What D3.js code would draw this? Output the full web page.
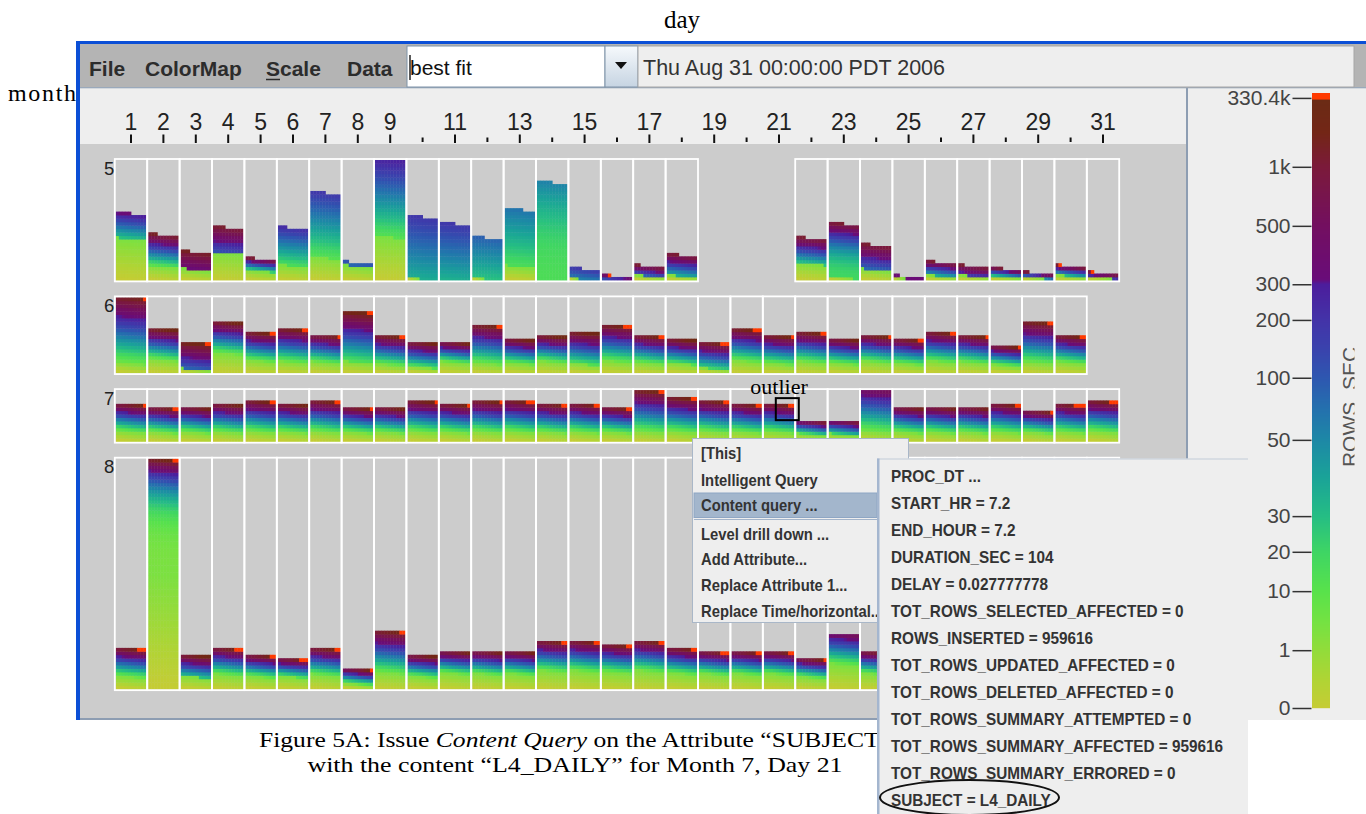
<!DOCTYPE html>
<html>
<head>
<meta charset="utf-8">
<title>ROWS_SEC by month and day</title>
<script src="https://cdn.jsdelivr.net/npm/d3@7/dist/d3.min.js"></script>
<style>
  html, body { margin: 0; padding: 0; background: #ffffff; }
  svg { display: block; }
</style>
</head>
<body>
<svg id="view" width="1366" height="814"></svg>
<script>
// ---------- data ----------
const dayNumbers = d3.range(1, 32);
const rulerLabels = [1, 2, 3, 4, 5, 6, 7, 8, 9, 11, 13, 15, 17, 19, 21, 23, 25, 27, 29, 31];
const rulerMinor = [10, 12, 14, 16, 18, 20, 22, 24, 26, 28, 30];
const monthLabels = ["5", "6", "7", "8"];

// records per day (one pixel per record, ten records per pixel row); null = no data that day
const mayCounts = [195, 133, 83, 154, 63, 153, 255, 52, 350, 185, 165, 124, 206, 285, 34, 13, 42, 74,
  null, null, null, 123, 165, 103, 12, 53, 42, 34, 22, 42, 22];
const junCounts = [220, 130, 90, 150, 120, 130, 110, 180, 110, 90, 90, 140, 100, 110, 120, 140, 110, 100,
  90, 130, 110, 120, 100, 110, 100, 120, 110, 80, 150, 110];
const julCounts = [110, 100, 100, 110, 120, 110, 120, 100, 100, 120, 110, 120, 120, 110, 110, 100, 150, 130,
  120, 110, 110, 60, 60, 150, 100, 100, 100, 110, 90, 110, 120];
const augCounts = [120, 670, 100, 120, 100, 90, 120, 60, 170, 100, 110, 110, 110, 140, 140, 130, 140, 120,
  110, 110, 110, 90, 160, 110, 120, 110, 120, 100, 110, 120, 110];

// make-up of each day's sorted ROWS_SEC values, as colour-bar positions:
// [share of near-zero rates, position where the rest starts, position at the top, curvature]
const mayMix = [
  [0.62, 0.30, 0.72, 1], [0.30, 0.18, 0.92, 1], [0.38, 0.70, 0.92, 1], [0.52, 0.55, 0.90, 1], [0.44, 0.25, 0.90, 1],
  [0.28, 0.22, 0.65, 1], [0.26, 0.20, 0.62, 1], [0.80, 0.50, 0.55, 1], [0.36, 0.20, 0.68, 1], [0.02, 0.35, 0.62, 1],
  [0.00, 0.34, 0.62, 1], [0.03, 0.30, 0.52, 1], [0.20, 0.22, 0.48, 1], [0.00, 0.22, 0.45, 2], [0.08, 0.45, 0.62, 1],
  [0.00, 0.55, 0.80, 1], [0.30, 0.50, 0.90, 1], [0.18, 0.35, 0.90, 1], null, null,
  null, [0.40, 0.30, 0.90, 1], [0.05, 0.25, 0.90, 2], [0.30, 0.50, 0.90, 1], [0.30, 0.70, 0.72, 1],
  [0.25, 0.35, 0.90, 1], [0.30, 0.60, 0.90, 1], [0.30, 0.30, 0.90, 1], [0.30, 0.40, 0.90, 1], [0.30, 0.30, 0.92, 1],
  [0.35, 0.60, 0.90, 1]];
const junMix = [
  [0.13, 0.15, 0.93, 1], [0.30, 0.15, 0.97, 1], [0.12, 0.50, 0.97, 1], [0.38, 0.15, 0.96, 1], [0.30, 0.15, 0.97, 1],
  [0.25, 0.15, 0.96, 1], [0.28, 0.15, 0.93, 1], [0.18, 0.20, 0.97, 1], [0.22, 0.15, 0.96, 1], [0.20, 0.20, 0.95, 1],
  [0.35, 0.15, 0.95, 1], [0.20, 0.15, 0.95, 1], [0.28, 0.15, 0.96, 1], [0.30, 0.15, 0.97, 1], [0.22, 0.20, 0.97, 1],
  [0.24, 0.15, 0.96, 1], [0.26, 0.15, 0.96, 1], [0.28, 0.20, 0.97, 1], [0.15, 0.25, 0.96, 1], [0.27, 0.15, 0.97, 1],
  [0.25, 0.15, 0.96, 1], [0.27, 0.15, 0.97, 1], [0.28, 0.15, 0.95, 1], [0.30, 0.15, 0.96, 1], [0.27, 0.15, 0.96, 1],
  [0.28, 0.15, 0.96, 1], [0.28, 0.15, 0.96, 1], [0.28, 0.15, 0.96, 1], [0.20, 0.15, 0.96, 1], [0.28, 0.15, 0.96, 1]];
const julMix = [
  [0.27, 0.15, 0.95, 1], [0.28, 0.15, 0.95, 1], [0.28, 0.15, 0.94, 1], [0.26, 0.15, 0.95, 1], [0.25, 0.15, 0.96, 1],
  [0.26, 0.15, 0.95, 1], [0.25, 0.15, 0.96, 1], [0.28, 0.15, 0.95, 1], [0.28, 0.15, 0.95, 1], [0.25, 0.15, 0.96, 1],
  [0.26, 0.15, 0.95, 1], [0.25, 0.15, 0.96, 1], [0.25, 0.15, 0.96, 1], [0.26, 0.15, 0.95, 1], [0.26, 0.15, 0.95, 1],
  [0.28, 0.15, 0.95, 1], [0.20, 0.15, 0.96, 1], [0.23, 0.15, 0.96, 1], [0.25, 0.15, 0.96, 1], [0.26, 0.15, 0.95, 1],
  [0.26, 0.15, 0.95, 1], [0.35, 0.20, 0.90, 1], [0.35, 0.25, 0.88, 1], [0.20, 0.15, 0.80, 1], [0.28, 0.15, 0.93, 1],
  [0.28, 0.15, 0.93, 1], [0.28, 0.15, 0.93, 1], [0.26, 0.15, 0.95, 1], [0.30, 0.15, 0.94, 1], [0.26, 0.15, 0.96, 1],
  [0.25, 0.15, 0.96, 1]];
const augMix = [
  [0.30, 0.15, 0.96, 1], [0.50, 0.13, 0.97, 3.2], [0.36, 0.30, 0.97, 1], [0.35, 0.15, 0.96, 1], [0.36, 0.15, 0.96, 1],
  [0.40, 0.20, 0.96, 1], [0.34, 0.15, 0.96, 1], [0.25, 0.15, 0.96, 1], [0.28, 0.15, 0.95, 1], [0.36, 0.15, 0.96, 1],
  [0.42, 0.15, 0.94, 1], [0.40, 0.15, 0.94, 1], [0.40, 0.15, 0.94, 1], [0.38, 0.15, 0.95, 1], [0.38, 0.15, 0.95, 1],
  [0.38, 0.15, 0.95, 1], [0.38, 0.15, 0.95, 1], [0.38, 0.15, 0.95, 1], [0.40, 0.15, 0.95, 1], [0.40, 0.15, 0.95, 1],
  [0.40, 0.15, 0.95, 1], [0.38, 0.15, 0.95, 1], [0.45, 0.15, 0.80, 1], [0.40, 0.15, 0.95, 1], [0.40, 0.15, 0.95, 1],
  [0.38, 0.15, 0.95, 1], [0.40, 0.15, 0.95, 1], [0.38, 0.15, 0.95, 1], [0.40, 0.15, 0.95, 1], [0.38, 0.15, 0.95, 1],
  [0.40, 0.15, 0.95, 1]];

// records sitting at the colour-bar maximum (330.4k) on each day
const mayPeak = [0, 0, 0, 0, 0, 0, 0, 0, 0, 0, 0, 0, 0, 0, 0, 1, 0, 0, 0, 0, 0, 0, 0, 0, 0, 0, 0, 0, 0, 1, 1];
const junPeak = [1, 0, 2, 0, 2, 2, 1, 2, 2, 0, 0, 2, 0, 0, 0, 3, 2, 0, 3, 3, 1, 2, 0, 1, 2, 2, 1, 1, 2, 2];
const julPeak = [1, 2, 0, 0, 2, 0, 2, 1, 0, 1, 1, 1, 3, 2, 2, 2, 2, 2, 2, 2, 2, 0, 0, 0, 0, 0, 0, 2, 1, 4, 3];
const augPeak = [3, 2, 0, 3, 2, 3, 2, 1, 2, 0, 0, 0, 0, 2, 2, 2, 2, 2, 3, 2, 2, 1, 0, 2, 2, 0, 2, 2, 0, 2, 2];

// colour bar: tick values, their labels and their position along the bar (0 bottom .. 1 top)
const legendValues = [0, 1, 10, 20, 30, 50, 100, 200, 300, 500, 1000, 330400];
const legendLabels = ["0", "1", "10", "20", "30", "50", "100", "200", "300", "500", "1k", "330.4k"];
const legendStops = [0, 0.094, 0.19, 0.254, 0.312, 0.436, 0.537, 0.631, 0.689, 0.784, 0.88, 0.992];

// popup menu and the record details of the selected pixel
const menuItems = ["[This]", "Intelligent Query", "Content query ...", "Level drill down ...",
  "Add Attribute...", "Replace Attribute 1...", "Replace Time/horizontal..."];
const recordFields = ["PROC_DT ...", "START_HR = 7.2", "END_HOUR = 7.2", "DURATION_SEC = 104",
  "DELAY = 0.027777778", "TOT_ROWS_SELECTED_AFFECTED = 0", "ROWS_INSERTED = 959616",
  "TOT_ROWS_UPDATED_AFFECTED = 0", "TOT_ROWS_DELETED_AFFECTED = 0", "TOT_ROWS_SUMMARY_ATTEMPTED = 0",
  "TOT_ROWS_SUMMARY_AFFECTED = 959616", "TOT_ROWS_SUMMARY_ERRORED = 0", "SUBJECT = L4_DAILY"];

// ---------- styles ----------
const SANS = "'Liberation Sans', Arial, Helvetica, sans-serif";
const SERIF = "'Liberation Serif', 'Times New Roman', Times, serif";
const PEAK = "#ff3a00";
const colourStops = [
  [0, "#c6cc34"], [0.045, "#b0d434"], [0.094, "#92dc3a"], [0.14, "#74e242"], [0.19, "#58e24b"],
  [0.254, "#3ed564"], [0.312, "#25bd84"], [0.375, "#1aa398"], [0.436, "#1d88a6"], [0.487, "#2470ae"],
  [0.537, "#2e57b0"], [0.585, "#3a42ad"], [0.631, "#4333a8"], [0.689, "#4c1d9c"], [0.697, "#690c79"],
  [0.784, "#730f60"], [0.88, "#7b1a3a"], [0.935, "#732616"], [0.988, "#6b2b15"], [0.9905, PEAK], [1, PEAK]];

const colormap = d3.scaleLinear()
  .domain(colourStops.map(d => d[0]))
  .range(colourStops.map(d => d[1]))
  .interpolate(d3.interpolateRgb)
  .clamp(true);

// colour of the record at fraction f (0 = lowest) of a day's sorted values
function shade(f, mix) {
  const [low, base, top, curve] = mix;
  let t;
  if (f < low) t = 0.13 * f / low;
  else t = base + (top - base) * Math.pow((f - low) / (1 - low), curve);
  return colormap(Math.min(t, 0.984));
}

const svg = d3.select("#view");

function uiText(parent, str, x, y, size, opts = {}) {
  return parent.append("text")
    .attr("transform", `translate(${x},${y}) scale(${opts.sx || 1},1)`)
    .attr("font-family", opts.family || SANS)
    .attr("font-size", size)
    .attr("font-weight", opts.weight || "normal")
    .attr("fill", opts.fill || "#333")
    .attr("text-anchor", opts.anchor || "start")
    .text(str);
}

// ---------- window frame ----------
const frame = svg.append("g");
frame.append("rect").attr("x", 76).attr("y", 41).attr("width", 1290).attr("height", 679).attr("fill", "#0b4fd6");
frame.append("rect").attr("x", 80).attr("y", 44).attr("width", 1286).attr("height", 676).attr("fill", "#b4b4b4");
frame.append("rect").attr("x", 80).attr("y", 88).attr("width", 1106).attr("height", 56).attr("fill", "#eeeeee");
frame.append("rect").attr("x", 80).attr("y", 144).attr("width", 1106).attr("height", 574).attr("fill", "#cccccc");
frame.append("rect").attr("x", 1188).attr("y", 88).attr("width", 178).attr("height", 632).attr("fill", "#eeeeee");
frame.append("rect").attr("x", 1186).attr("y", 88).attr("width", 2).attr("height", 632).attr("fill", "#8d9db2");
frame.append("rect").attr("x", 80).attr("y", 87).attr("width", 1286).attr("height", 1.3).attr("fill", "#9aa9bb");
frame.append("rect").attr("x", 80).attr("y", 718).attr("width", 1106).attr("height", 2).attr("fill", "#8d9db2");

// ---------- toolbar ----------
const bar = svg.append("g");
[["File", 89], ["ColorMap", 145], ["Scale", 266], ["Data", 347]].forEach(([t, x]) => {
  uiText(bar, t, x, 76, 21, { weight: "bold", fill: "#2c2c2c" });
});
bar.append("line").attr("x1", 266).attr("x2", 280).attr("y1", 79.5).attr("y2", 79.5)
  .attr("stroke", "#2c2c2c").attr("stroke-width", 1.5);

bar.append("rect").attr("x", 407).attr("y", 46).attr("width", 198).attr("height", 41)
  .attr("fill", "#ffffff").attr("stroke", "#7f93a8");
uiText(bar, "best fit", 410, 75, 21, { fill: "#111" });
bar.append("line").attr("x1", 410).attr("x2", 410).attr("y1", 55).attr("y2", 80)
  .attr("stroke", "#000").attr("stroke-width", 1.3);

const grad = svg.append("defs").append("linearGradient").attr("id", "btn").attr("x1", 0).attr("x2", 0).attr("y1", 0).attr("y2", 1);
grad.append("stop").attr("offset", 0).attr("stop-color", "#f6f9fc");
grad.append("stop").attr("offset", 1).attr("stop-color", "#c6d4e2");
bar.append("rect").attr("x", 605).attr("y", 46).attr("width", 33).attr("height", 41)
  .attr("fill", "url(#btn)").attr("stroke", "#7f93a8");
bar.append("path").attr("d", "M615,62 L627,62 L621,69 Z").attr("fill", "#111");

bar.append("rect").attr("x", 638).attr("y", 46).attr("width", 716).attr("height", 41)
  .attr("fill", "#eeeeee").attr("stroke", "#a6a6a6");
uiText(bar, "Thu Aug 31 00:00:00 PDT 2006", 643, 75, 21.5, { fill: "#333" });

// ---------- day ruler ----------
const dayBand = d3.scaleBand().domain(dayNumbers).range([114.8, 1119.2]);

const ruler = svg.append("g").attr("transform", "translate(0,143)")
  .call(d3.axisTop(dayBand).tickValues(rulerLabels).tickSize(8.5).tickPadding(4.5));
ruler.select(".domain").remove();
ruler.selectAll("line").attr("stroke", "#111").attr("stroke-width", 2);
ruler.selectAll("text").attr("font-family", SANS).attr("font-size", 23).attr("fill", "#222");

const minor = svg.append("g").attr("transform", "translate(0,142)")
  .call(d3.axisTop(dayBand).tickValues(rulerMinor).tickSize(4.5).tickFormat(""));
minor.select(".domain").remove();
minor.selectAll("line").attr("stroke", "#111").attr("stroke-width", 2);

// ---------- pixel bars, one panel per month ----------
const months = [
  { label: monthLabels[0], counts: mayCounts, mix: mayMix, peak: mayPeak },
  { label: monthLabels[1], counts: junCounts, mix: junMix, peak: junPeak },
  { label: monthLabels[2], counts: julCounts, mix: julMix, peak: julPeak },
  { label: monthLabels[3], counts: augCounts, mix: augMix, peak: augPeak }
];
const perRow = 10, rowPx = 3.44, panelGap = 17, inset = 1.0;
let panelTop = 160;
const plot = svg.append("g");

months.forEach(m => {
  const maxRows = d3.max(m.counts) / perRow;
  const panelH = maxRows * rowPx;
  const y = d3.scaleLinear().domain([0, maxRows]).range([panelTop + panelH, panelTop]);
  m.y = y;
  const g = plot.append("g");
  const bw = dayBand.bandwidth();
  const cw = (bw - 2 * inset) / perRow;

  m.counts.forEach((n, i) => {
    if (n == null) return;
    const x0 = dayBand(i + 1);
    const recs = d3.range(n).map(k => ({ k, row: Math.floor(k / perRow), col: k % perRow }));
    g.append("g").selectAll("rect").data(recs).join("rect")
      .attr("x", d => x0 + inset + d.col * cw)
      .attr("y", d => y(d.row + 1))
      .attr("width", cw + 0.4)
      .attr("height", d => y(d.row) - y(d.row + 1) + 0.4)
      .attr("fill", d => d.k >= n - m.peak[i] ? PEAK : shade((d.k + 0.5) / n, m.mix[i]));
  });
  m.counts.forEach((n, i) => {
    if (n == null) return;
    g.append("rect").attr("x", dayBand(i + 1)).attr("y", panelTop - 1)
      .attr("width", bw).attr("height", panelH + 2)
      .attr("fill", "none").attr("stroke", "#ffffff").attr("stroke-width", 1.8);
  });
  g.append("text").attr("x", dayBand(1) - 0.5).attr("y", panelTop + 14.5)
    .attr("text-anchor", "end").attr("font-family", SANS).attr("font-size", 18.5)
    .attr("fill", "#222").text(m.label);

  panelTop += panelH + panelGap;
});

// outlier mark on month 7, day 21
const jul = months[2];
const ox = dayBand(21), oy = jul.y(julCounts[20] / perRow);
svg.append("text").attr("x", ox - 12.5).attr("y", oy - 10)
  .attr("font-family", SERIF).attr("font-size", 22).attr("fill", "#000").text("outlier");
svg.append("rect").attr("x", ox + 13).attr("y", oy - 5.7).attr("width", 23).attr("height", 22)
  .attr("fill", "none").attr("stroke", "#000").attr("stroke-width", 2);

// ---------- colour bar legend ----------
const barY = d3.scaleLinear().domain([0, 1]).range([708, 93]);
const legendScale = d3.scaleLinear().domain(legendValues).range(legendStops.map(barY));
const legend = svg.append("g");
legend.append("g").selectAll("rect").data(d3.range(93, 708)).join("rect")
  .attr("x", 1312).attr("width", 18)
  .attr("y", d => d).attr("height", 1.2)
  .attr("fill", d => colormap(barY.invert(d + 0.5)));

const lAxis = legend.append("g").attr("transform", "translate(1311.5,0)")
  .call(d3.axisLeft(legendScale).tickValues(legendValues)
    .tickFormat((d, i) => legendLabels[i]).tickSize(19).tickPadding(2));
lAxis.select(".domain").remove();
lAxis.selectAll("line").attr("stroke", "#333").attr("stroke-width", 1.5);
lAxis.selectAll("text").attr("font-family", SANS).attr("font-size", 21).attr("fill", "#444");

svg.append("defs").append("clipPath").attr("id", "legendClip")
  .append("rect").attr("x", 1188).attr("y", 88).attr("width", 166.5).attr("height", 632);
legend.append("g").attr("clip-path", "url(#legendClip)")
  .append("text").attr("transform", "translate(1357,407) rotate(-90)")
  .attr("text-anchor", "middle").attr("font-family", SANS).attr("font-size", 21)
  .attr("fill", "#555").text("ROWS_SEC");

// ---------- axis captions and figure caption ----------
svg.append("text").attr("x", 664).attr("y", 28).attr("font-family", SERIF).attr("font-size", 25)
  .attr("fill", "#000").text("day");
svg.append("text").attr("x", 8).attr("y", 101).attr("font-family", SERIF).attr("font-size", 24)
  .attr("textLength", 68).attr("fill", "#000").text("month");

const cap1 = svg.append("text").attr("x", 575).attr("y", 747).attr("text-anchor", "middle")
  .attr("font-family", SERIF).attr("font-size", 22).attr("fill", "#000")
  .attr("textLength", 632).attr("lengthAdjust", "spacingAndGlyphs");
cap1.append("tspan").text("Figure 5A: Issue ");
cap1.append("tspan").attr("font-style", "italic").text("Content Query");
cap1.append("tspan").text(" on the Attribute \u201cSUBJECT\u201d");
svg.append("text").attr("x", 575).attr("y", 772).attr("text-anchor", "middle")
  .attr("font-family", SERIF).attr("font-size", 22).attr("fill", "#000")
  .attr("textLength", 535).attr("lengthAdjust", "spacingAndGlyphs")
  .text("with the content \u201cL4_DAILY\u201d for Month 7, Day 21");

// ---------- popup menu ----------
const menu = svg.append("g");
menu.append("rect").attr("x", 692.5).attr("y", 438.5).attr("width", 216).attr("height", 184)
  .attr("fill", "#eeeeee").attr("stroke", "#a9b7c8");
menu.append("rect").attr("x", 694).attr("y", 493).attr("width", 183).attr("height", 24.5)
  .attr("fill", "#a3b6cc").attr("stroke", "#8ea6c4");
menu.append("line").attr("x1", 694).attr("x2", 877).attr("y1", 519.5).attr("y2", 519.5)
  .attr("stroke", "#a3b4ca").attr("stroke-width", 1.2);
const menuBase = [458.5, 486, 511, 540, 565, 591, 616.5];
menuItems.forEach((t, i) => uiText(menu, t, 701, menuBase[i], 17, { weight: "bold", sx: 0.87, fill: "#333" }));

const sub = svg.append("g");
sub.append("rect").attr("x", 877).attr("y", 458.5).attr("width", 371).attr("height", 360)
  .attr("fill", "#eeeeee");
sub.append("line").attr("x1", 877).attr("x2", 1248).attr("y1", 459).attr("y2", 459)
  .attr("stroke", "#c2cbd8").attr("stroke-width", 1.2);
sub.append("rect").attr("x", 877).attr("y", 458.5).attr("width", 2.5).attr("height", 360)
  .attr("fill", "#a4b6cf");
recordFields.forEach((t, i) => uiText(sub, t, 891, 481.7 + 27 * i, 16.3, { weight: "bold", sx: 0.94, fill: "#333" }));
sub.append("ellipse").attr("cx", 969.5).attr("cy", 797.5).attr("rx", 89.5).attr("ry", 17.5)
  .attr("fill", "none").attr("stroke", "#111").attr("stroke-width", 2);
</script>
</body>
</html>
